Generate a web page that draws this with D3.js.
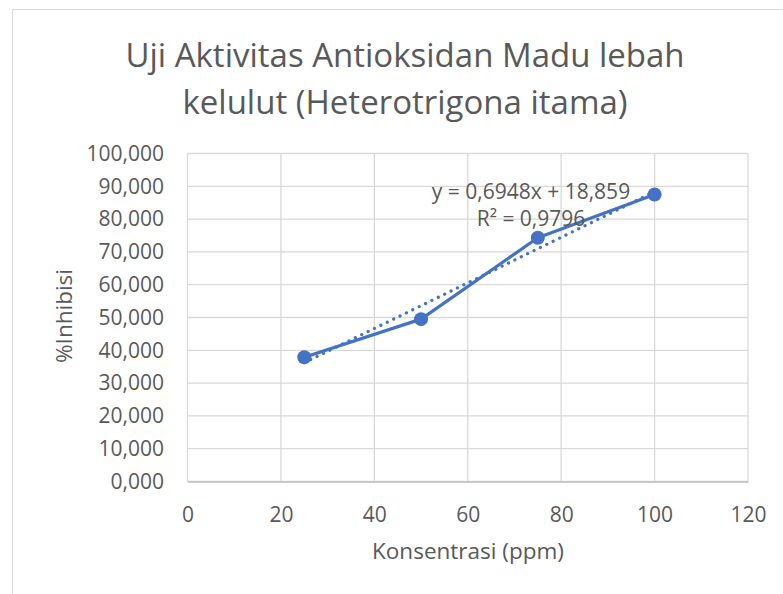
<!DOCTYPE html>
<html>
<head>
<meta charset="utf-8">
<script src="https://cdn.jsdelivr.net/npm/d3@7/dist/d3.min.js"></script>
<style>
  html, body { margin: 0; padding: 0; background: #fff; }
  svg { display: block; }
  text { font-family: "Open Sans", "Noto Sans", sans-serif; fill: #595959; }
</style>
</head>
<body>
<svg id="chart" width="783" height="594"></svg>
<script>
// ---- data ----
const concentrations = [25, 50, 75, 100];
const inhibition = [37.9, 49.5, 74.3, 87.5];
const trendSlope = 0.6948;
const trendIntercept = 18.859;
const titleLines = ["Uji Aktivitas Antioksidan Madu lebah", "kelulut (Heterotrigona itama)"];
const xTicks = [0, 20, 40, 60, 80, 100, 120];
const yTicks = [0, 10, 20, 30, 40, 50, 60, 70, 80, 90, 100];
const xTitle = "Konsentrasi (ppm)";
const yTitle = "%Inhibisi";
const eqLines = ["y = 0,6948x + 18,859", "R² = 0,9796"];

// ---- layout ----
const svg = d3.select("#chart");
const W = 783, H = 594;
const plot = { left: 187.5, right: 748, top: 153.5, bottom: 481.5 };
const blue = "#4472C4", grid = "#d9d9d9";

// outer chart border
svg.append("rect")
  .attr("x", 12.5).attr("y", 9.5)
  .attr("width", W + 10).attr("height", H + 10)
  .attr("fill", "#fff").attr("stroke", grid).attr("stroke-width", 1);

const x = d3.scaleLinear().domain([0, 120]).range([plot.left, plot.right]);
const y = d3.scaleLinear().domain([0, 100]).range([plot.bottom, plot.top]);

const fmtY = v => d3.format(".3f")(v).replace(".", ",");

// gridlines
svg.append("g")
  .selectAll("line")
  .data(yTicks)
  .join("line")
  .attr("x1", plot.left).attr("x2", plot.right)
  .attr("y1", d => y(d)).attr("y2", d => y(d))
  .attr("stroke", grid).attr("stroke-width", 1.3);

svg.append("g")
  .selectAll("line")
  .data(xTicks)
  .join("line")
  .attr("x1", d => x(d)).attr("x2", d => x(d))
  .attr("y1", plot.top).attr("y2", plot.bottom)
  .attr("stroke", grid).attr("stroke-width", 1.3);

// axes
const xAxis = svg.append("g")
  .attr("transform", `translate(0,${plot.bottom})`)
  .call(d3.axisBottom(x).tickValues(xTicks).tickSize(0).tickPadding(25.5).tickFormat(d3.format("d")));
xAxis.select(".domain").attr("stroke", "#bfbfbf").attr("stroke-width", 1.3);
xAxis.selectAll("text").style("font-size", "21px").attr("fill", "#595959")
  .style("font-family", '"Open Sans", sans-serif');

const yAxis = svg.append("g")
  .attr("transform", `translate(${plot.left},0)`)
  .call(d3.axisLeft(y).tickValues(yTicks).tickSize(0).tickPadding(23.5).tickFormat(fmtY));
yAxis.select(".domain").remove();
yAxis.selectAll("text").style("font-size", "21px").attr("fill", "#595959")
  .style("font-family", '"Open Sans", sans-serif');

// trendline (dotted)
const trendX = d3.extent(concentrations);
svg.append("line")
  .attr("x1", x(trendX[0])).attr("y1", y(trendSlope * trendX[0] + trendIntercept))
  .attr("x2", x(trendX[1])).attr("y2", y(trendSlope * trendX[1] + trendIntercept))
  .attr("stroke", blue).attr("stroke-width", 3.2)
  .attr("stroke-linecap", "round")
  .attr("stroke-dasharray", "0.1 7");

// series line
const pts = concentrations.map((c, i) => [c, inhibition[i]]);
svg.append("path")
  .datum(pts)
  .attr("d", d3.line().x(d => x(d[0])).y(d => y(d[1])))
  .attr("fill", "none").attr("stroke", blue).attr("stroke-width", 3.2)
  .attr("stroke-linejoin", "round");

svg.append("g")
  .selectAll("circle")
  .data(pts)
  .join("circle")
  .attr("cx", d => x(d[0])).attr("cy", d => y(d[1]))
  .attr("r", 7).attr("fill", blue);

// equation label
svg.append("text")
  .attr("x", 531).attr("y", 199)
  .attr("text-anchor", "middle")
  .style("font-size", "21px")
  .selectAll("tspan")
  .data(eqLines)
  .join("tspan")
  .attr("x", 531)
  .attr("dy", (d, i) => i === 0 ? 0 : 27)
  .text(d => d);

// title
svg.append("g")
  .selectAll("text")
  .data(titleLines)
  .join("text")
  .attr("x", 405)
  .attr("y", (d, i) => 67 + i * 47)
  .attr("text-anchor", "middle")
  .style("font-size", "33px")
  .text(d => d);

// axis titles
svg.append("text")
  .attr("x", 468).attr("y", 559)
  .attr("text-anchor", "middle")
  .style("font-size", "22.5px")
  .text(xTitle);

svg.append("text")
  .attr("transform", "translate(72,316) rotate(-90)")
  .attr("text-anchor", "middle")
  .style("font-size", "22.5px")
  .text(yTitle);
</script>
</body>
</html>
